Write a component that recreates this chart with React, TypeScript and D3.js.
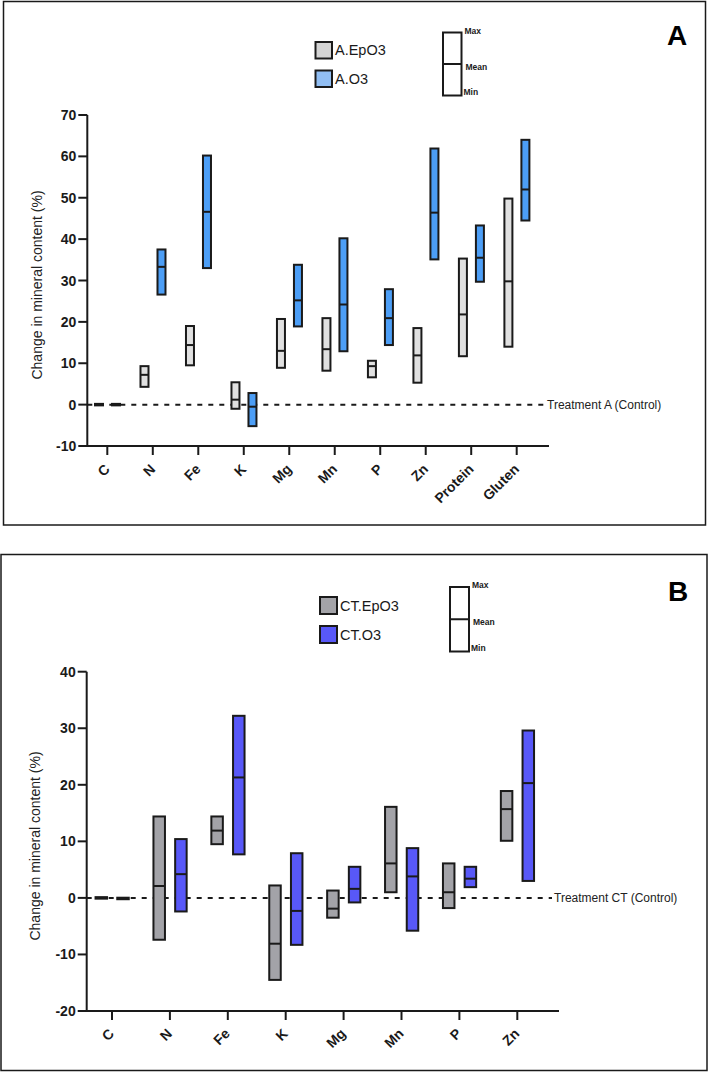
import React from "react";
import * as d3 from "d3";

// ---------- Panel A data ----------
const catsA = ["C", "N", "Fe", "K", "Mg", "Mn", "P", "Zn", "Protein", "Gluten"];
const aEpMin = [0, 4.3, 9.5, -1.0, 8.9, 8.2, 6.6, 5.3, 11.7, 14.0];
const aEpMean = [0, 7.2, 14.4, 1.2, 13.0, 13.4, 9.3, 11.9, 21.8, 29.8];
const aEpMax = [0, 9.3, 19.0, 5.4, 20.7, 20.9, 10.6, 18.5, 35.3, 49.8];
const aO3Min = [0, 26.6, 33.0, -5.2, 18.9, 12.9, 14.4, 35.1, 29.7, 44.5];
const aO3Mean = [0, 33.3, 46.6, -0.5, 25.2, 24.2, 20.9, 46.4, 35.5, 52.0];
const aO3Max = [0, 37.5, 60.2, 2.8, 33.8, 40.2, 27.9, 61.9, 43.3, 64.0];
const ticksA = [-10, 0, 10, 20, 30, 40, 50, 60, 70];
const seriesNamesA = ["A.EpO3", "A.O3"];

// ---------- Panel B data ----------
const catsB = ["C", "N", "Fe", "K", "Mg", "Mn", "P", "Zn"];
const ctEpMin = [0, -7.4, 9.5, -14.5, -3.5, 1.0, -1.8, 10.1];
const ctEpMean = [0, 2.1, 11.9, -8.1, -1.9, 6.1, 1.0, 15.7];
const ctEpMax = [0, 14.4, 14.4, 2.2, 1.3, 16.1, 6.1, 18.9];
const ctO3Min = [-0.1, -2.4, 7.7, -8.3, -0.8, -5.8, 1.9, 3.0];
const ctO3Mean = [-0.1, 4.2, 21.3, -2.3, 1.6, 3.8, 3.4, 20.3];
const ctO3Max = [-0.1, 10.4, 32.2, 7.9, 5.5, 8.8, 5.5, 29.6];
const ticksB = [-20, -10, 0, 10, 20, 30, 40];
const seriesNamesB = ["CT.EpO3", "CT.O3"];

const FONT = "'Liberation Sans', Arial, Helvetica, sans-serif";
const INK = "#1a1a1a";

type Series = { min: number[]; mean: number[]; max: number[]; fill: string; offset: number };

type PanelProps = {
  frame: [number, number, number, number];
  cats: string[];
  xRange: [number, number];
  axisX: [number, number];
  yDomain: [number, number];
  yRange: [number, number];
  ticks: number[];
  series: Series[];
  barW: number;
  labelY: number;
  labelDX: number;
  dashEnd: number;
  controlLabel: string;
  yTitleCenter: [number, number];
  legendNames: string[];
  legendFills: string[];
  legendX: number;
  legendY: [number, number];
  swatch: number;
  schematic: { x: number; y0: number; y1: number; w: number };
  letter: string;
  letterPos: [number, number];
};

function Panel(p: PanelProps) {
  const x = d3.scalePoint<string>().domain(p.cats).range(p.xRange);
  const y = d3.scaleLinear().domain(p.yDomain).range(p.yRange);
  const axisLeftX = p.axisX[0];
  const baseY = y(p.yDomain[0]);
  const topY = y(p.yDomain[1]);
  const [fx, fy, fw, fh] = p.frame;
  const sc = p.schematic;
  const scMid = (sc.y0 + sc.y1) / 2;
  return (
    <g>
      <rect x={fx} y={fy} width={fw} height={fh} fill="#fff" stroke={INK} strokeWidth={1.5} />
      {/* zero dashed line */}
      <line x1={axisLeftX} x2={p.dashEnd} y1={y(0)} y2={y(0)} stroke={INK} strokeWidth={2} strokeDasharray="5,6" />
      <text x={p.dashEnd + 2} y={y(0)} dy="0.35em" fontFamily={FONT} fontSize={12} fill="#222">
        {p.controlLabel}
      </text>
      {/* bars */}
      {p.series.map((s, si) =>
        p.cats.map((c, i) => {
          const cx = (x(c) as number) + s.offset;
          let yt = y(s.max[i]);
          let yb = y(s.min[i]);
          if (yb - yt < 1.5) {
            const m = (yt + yb) / 2;
            yt = m - 0.75;
            yb = m + 0.75;
          }
          return (
            <g key={`${si}-${c}`}>
              <rect x={cx - p.barW / 2} y={yt} width={p.barW} height={yb - yt} fill={s.fill} stroke={INK} strokeWidth={2} />
              <line x1={cx - p.barW / 2} x2={cx + p.barW / 2} y1={y(s.mean[i])} y2={y(s.mean[i])} stroke={INK} strokeWidth={2} />
            </g>
          );
        })
      )}
      {/* y axis */}
      <line x1={axisLeftX} x2={axisLeftX} y1={topY} y2={baseY + 1} stroke={INK} strokeWidth={2} />
      {p.ticks.map((t) => (
        <g key={t}>
          <line x1={axisLeftX - 9} x2={axisLeftX} y1={y(t)} y2={y(t)} stroke={INK} strokeWidth={2} />
          <text x={axisLeftX - 11} y={y(t)} dy="0.36em" textAnchor="end" fontFamily={FONT} fontSize={14} fontWeight="bold" fill={INK}>
            {t}
          </text>
        </g>
      ))}
      {/* x axis */}
      <line x1={axisLeftX - 1} x2={p.axisX[1]} y1={baseY} y2={baseY} stroke={INK} strokeWidth={2} />
      {p.cats.map((c) => (
        <g key={c}>
          <line x1={x(c)} x2={x(c)} y1={baseY} y2={baseY + 9} stroke={INK} strokeWidth={2} />
          <text
            transform={`translate(${(x(c) as number) + p.labelDX},${p.labelY}) rotate(-45)`}
            textAnchor="end"
            fontFamily={FONT}
            fontSize={14}
            fontWeight="bold"
            fill={INK}
          >
            {c}
          </text>
        </g>
      ))}
      {/* y title */}
      <text
        transform={`translate(${p.yTitleCenter[0]},${p.yTitleCenter[1]}) rotate(-90)`}
        textAnchor="middle"
        dy="0.35em"
        fontFamily={FONT}
        fontSize={14}
        fill="#222"
      >
        Change in mineral content (%)
      </text>
      {/* legend */}
      {p.legendNames.map((n, i) => (
        <g key={n}>
          <rect x={p.legendX} y={p.legendY[i]} width={p.swatch} height={p.swatch} fill={p.legendFills[i]} stroke={INK} strokeWidth={2} />
          <text x={p.legendX + p.swatch + 3} y={p.legendY[i] + p.swatch / 2} dy="0.36em" fontFamily={FONT} fontSize={14.5} fill={INK}>
            {n}
          </text>
        </g>
      ))}
      {/* schematic */}
      <rect x={sc.x} y={sc.y0} width={sc.w} height={sc.y1 - sc.y0} fill="#fff" stroke={INK} strokeWidth={2} />
      <line x1={sc.x} x2={sc.x + sc.w} y1={scMid} y2={scMid} stroke={INK} strokeWidth={2} />
      <text x={sc.x + sc.w + 3} y={sc.y0 + 1} fontFamily={FONT} fontSize={8.5} fontWeight="bold" fill={INK}>Max</text>
      <text x={sc.x + sc.w + 4} y={scMid} dy="0.7em" fontFamily={FONT} fontSize={8.5} fontWeight="bold" fill={INK}>Mean</text>
      <text x={sc.x + sc.w + 2} y={sc.y1 - 1} fontFamily={FONT} fontSize={8.5} fontWeight="bold" fill={INK}>Min</text>
      <text x={p.letterPos[0]} y={p.letterPos[1]} textAnchor="middle" fontFamily={FONT} fontSize={28} fontWeight="bold" fill="#000">
        {p.letter}
      </text>
    </g>
  );
}

export default function App() {
  return (
    <div style={{ position: "absolute", left: 0, top: 0 }}>
      <svg width={709} height={1072} style={{ display: "block", background: "#fff" }}>
        <Panel
          frame={[3.5, 1.5, 702, 523.5]}
          cats={catsA}
          xRange={[107.3, 516.7]}
          axisX={[87.3, 549]}
          yDomain={[-10, 70]}
          yRange={[446, 115]}
          ticks={ticksA}
          series={[
            { min: aEpMin, mean: aEpMean, max: aEpMax, fill: "#e0e0e0", offset: -8.3 },
            { min: aO3Min, mean: aO3Mean, max: aO3Max, fill: "#4c9ef6", offset: 8.7 },
          ]}
          barW={8}
          labelY={470}
          labelDX={3.3}
          dashEnd={545}
          controlLabel="Treatment A (Control)"
          yTitleCenter={[37.5, 285]}
          legendNames={seriesNamesA}
          legendFills={["#d3d3d3", "#91bef3"]}
          legendX={315.5}
          legendY={[42, 70.5]}
          swatch={16.5}
          schematic={{ x: 443, y0: 32.5, y1: 95.5, w: 18.5 }}
          letter="A"
          letterPos={[677, 45]}
        />
        <Panel
          frame={[1, 554.5, 706, 516]}
          cats={catsB}
          xRange={[112, 517.3]}
          axisX={[86.7, 559]}
          yDomain={[-20, 40]}
          yRange={[1011, 671.7]}
          ticks={ticksB}
          series={[
            { min: ctEpMin, mean: ctEpMean, max: ctEpMax, fill: "#a3a3a8", offset: -10.7 },
            { min: ctO3Min, mean: ctO3Mean, max: ctO3Max, fill: "#5858f8", offset: 11 },
          ]}
          barW={11.5}
          labelY={1034.5}
          labelDX={3}
          dashEnd={552}
          controlLabel="Treatment CT (Control)"
          yTitleCenter={[35, 846]}
          legendNames={seriesNamesB}
          legendFills={["#a3a3a8", "#5858f8"]}
          legendX={320}
          legendY={[597, 626]}
          swatch={17}
          schematic={{ x: 450, y0: 587, y1: 651.5, w: 19 }}
          letter="B"
          letterPos={[678, 601]}
        />
      </svg>
    </div>
  );
}
